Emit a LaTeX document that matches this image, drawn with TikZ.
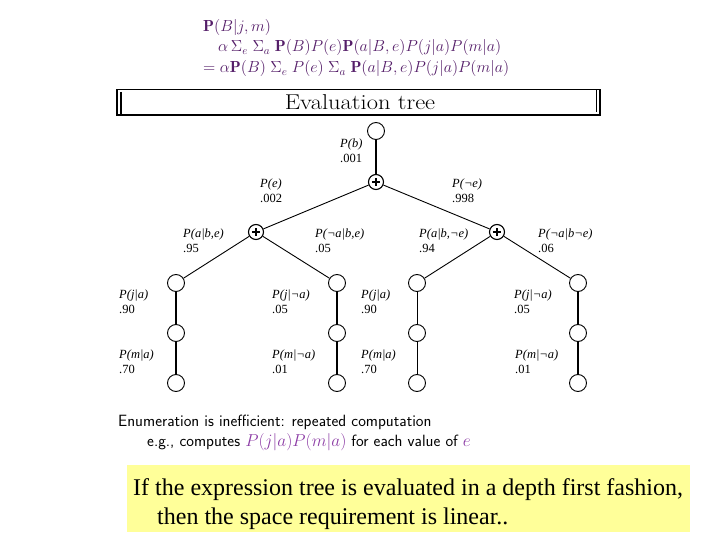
\documentclass[tikz,border=0pt]{standalone}
\usepackage{fontspec}
\newfontfamily\timesf{Liberation Serif}
\definecolor{formcol}{RGB}{85,30,105}
\definecolor{mathpurple}{RGB}{140,60,165}
\definecolor{notey}{RGB}{255,255,153}
\begin{document}
\begin{tikzpicture}[x=1pt,y=-1pt,
  leaf/.style={draw,circle,minimum size=17pt,inner sep=0pt,line width=0.9pt,fill=white},
  sumnode/.style={draw,circle,minimum size=15pt,inner sep=0pt,line width=1.1pt,fill=white,
    path picture={\draw[line width=2.2pt]
      ([xshift=-4.2pt]path picture bounding box.center) -- ([xshift=4.2pt]path picture bounding box.center)
      ([yshift=-4.2pt]path picture bounding box.center) -- ([yshift=4.2pt]path picture bounding box.center);}},
  thickedge/.style={line width=1.8pt},
  midedge/.style={line width=1.2pt},
  thinedge/.style={line width=0.9pt},
  plabel/.style={anchor=north west,align=left,inner sep=0pt,font=\timesf\fontsize{12.5}{14.5}\selectfont},
  formula/.style={anchor=base west,inner sep=0pt,text=formcol,font=\fontsize{14.4}{17}\selectfont},
  enum/.style={anchor=base west,inner sep=0pt,font=\sffamily\fontsize{16.3}{19}\selectfont},
  note/.style={anchor=base west,inner sep=0pt,font=\timesf\fontsize{24}{29}\selectfont},
]
\useasboundingbox (0,0) rectangle (720,540);

% formula
\node[formula] (f1) at (203,32) {\scalebox{1.115}{$\mathbf{P}(B|j,m)$}};
\node[formula] (f2) at (218,52) {\scalebox{1.115}{$\alpha\,\Sigma_e\;\Sigma_a\;\mathbf{P}(B)P(e)\mathbf{P}(a|B,e)P(j|a)P(m|a)$}};
\node[formula] (f3) at (203,73) {\scalebox{1.115}{$=\alpha\mathbf{P}(B)\;\Sigma_e\;P(e)\;\Sigma_a\;\mathbf{P}(a|B,e)P(j|a)P(m|a)$}};

% title box
\draw[line width=1.1pt] (117,89.5) rectangle (600,115);
\draw[line width=1.1pt] (121,92) -- (121,115);
\draw[line width=1.1pt] (596.5,89.5) -- (596.5,112.5);
\node[inner sep=0pt,font=\fontsize{21.5}{24}\selectfont] (title) at (360,102.5) {\scalebox{1.14}[1]{Evaluation tree}};

% tree nodes
\node[leaf] (root) at (376,131) {};
\node[sumnode] (s0) at (376,182) {};
\node[sumnode] (s1) at (256,232) {};
\node[sumnode] (s2) at (497,232) {};
\node[leaf] (c1) at (176,283) {};
\node[leaf] (c2) at (337,283) {};
\node[leaf] (c3) at (417,283) {};
\node[leaf] (c4) at (578,283) {};
\node[leaf] (d1) at (176,333) {};
\node[leaf] (d2) at (337,333) {};
\node[leaf] (d3) at (417,333) {};
\node[leaf] (d4) at (578,333) {};
\node[leaf] (e1) at (176,383) {};
\node[leaf] (e2) at (337,383) {};
\node[leaf] (e3) at (417,383) {};
\node[leaf] (e4) at (578,383) {};

% edges
\draw[thickedge] (root) -- (s0);
\draw[thinedge] (s0) -- (s1);
\draw[thinedge] (s0) -- (s2);
\draw[thinedge] (s1) -- (c1);
\draw[thinedge] (s1) -- (c2);
\draw[thinedge] (s2) -- (c3);
\draw[thinedge] (s2) -- (c4);
\draw[thickedge] (c1) -- (d1);
\draw[thickedge] (d1) -- (e1);
\draw[midedge] (c2) -- (d2);
\draw[midedge] (d2) -- (e2);
\draw[thinedge] (c3) -- (d3);
\draw[thinedge] (d3) -- (e3);
\draw[thickedge] (c4) -- (d4);
\draw[thickedge] (d4) -- (e4);

% labels
\node[plabel] (lb) at (340,139) {\textit{P(b)}\\.001};
\node[plabel] (le) at (260,179) {\textit{P(e)}\\.002};
\node[plabel] (lne) at (452,179) {\textit{P(¬e)}\\.998};
\node[plabel] (l1) at (183,229) {\textit{P(a|b,e)}\\.95};
\node[plabel] (l2) at (315,229) {\textit{P(¬a|b,e)}\\.05};
\node[plabel] (l3) at (419,229) {\textit{P(a|b,¬e)}\\.94};
\node[plabel] (l4) at (538,229) {\textit{P(¬a|b¬e)}\\.06};
\node[plabel] (j1) at (119,290) {\textit{P(j|a)}\\.90};
\node[plabel] (j2) at (272,290) {\textit{P(j|¬a)}\\.05};
\node[plabel] (j3) at (361,290) {\textit{P(j|a)}\\.90};
\node[plabel] (j4) at (514,290) {\textit{P(j|¬a)}\\.05};
\node[plabel] (m1) at (119,350) {\textit{P(m|a)}\\.70};
\node[plabel] (m2) at (272,350) {\textit{P(m|¬a)}\\.01};
\node[plabel] (m3) at (361,350) {\textit{P(m|a)}\\.70};
\node[plabel] (m4) at (515,350) {\textit{P(m|¬a)}\\.01};

% enumeration text
\node[enum] (en1) at (118,426) {Enumeration is inefficient: repeated computation};
\node[enum] (en2) at (147,446) {e.g., computes \textcolor{mathpurple}{$P(j|a)P(m|a)$} for each value of \textcolor{mathpurple}{$e$}};

% yellow note
\fill[notey] (127,465) rectangle (690,532);
\node[note] (y1) at (133,495) {If the expression tree is evaluated in a depth first fashion,};
\node[note] (y2) at (157,524) {then the space requirement is linear..};
\end{tikzpicture}
\end{document}
